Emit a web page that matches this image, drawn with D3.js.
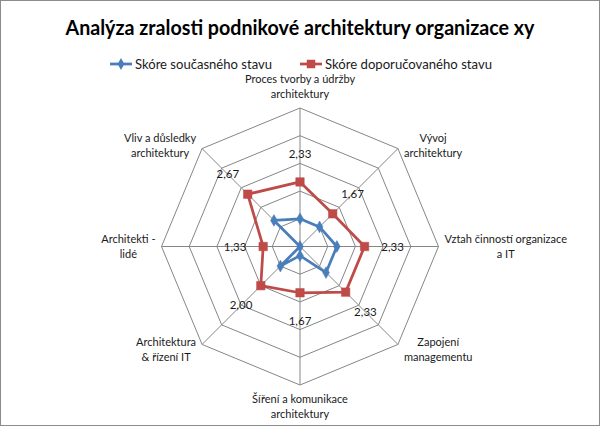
<!DOCTYPE html>
<html><head><meta charset="utf-8">
<script src="https://cdn.jsdelivr.net/npm/d3@7"></script>
<style>
html,body{margin:0;padding:0;background:#fff;}
svg{display:block;font-family:Lato,"Open Sans",sans-serif;}
</style></head>
<body>
<svg id="chart" width="600" height="426"></svg>
<script>
const title = "Analýza zralosti podnikové architektury organizace xy";
const categories = [
  ["Proces tvorby a údržby","architektury"],
  ["Vývoj","architektury"],
  ["Vztah činností organizace","a IT"],
  ["Zapojení","managementu"],
  ["Šíření a komunikace","architektury"],
  ["Architektura","& řízení IT"],
  ["Architekti -","lidé"],
  ["Vliv a důsledky","architektury"]
];
const seriesNames = ["Skóre současného stavu","Skóre doporučovaného stavu"];
const currentScores = [1, 1, 1.33, 1.33, 0.33, 1, 0, 1.33];
const recommendedScores = [2.33, 1.67, 2.33, 2.33, 1.67, 2.00, 1.33, 2.67];
const ringValues = [1, 2, 3, 4, 5];

const svg = d3.select("#chart");
const W = 600, H = 426;
const cx = 300, cy = 246.5, R = 138.5;
const blue = "#4A7EBB", red = "#BE4B48", grid = "#868686";

svg.append("rect").attr("x",0.5).attr("y",0.5).attr("width",W-1).attr("height",H-1)
  .attr("fill","#fff").attr("stroke","#8c8c8c");

const n = categories.length;
const angle = d3.scaleLinear().domain([0,n]).range([0, 2*Math.PI]);
const r = d3.scaleLinear().domain([0,5]).range([0,R]);
const pt = (i, v) => [cx + r(v)*Math.sin(angle(i)), cy - r(v)*Math.cos(angle(i))];

const g = svg.append("g");
ringValues.forEach(v => {
  g.append("path")
    .attr("d", d3.line()(d3.range(n).map(i => pt(i, v))) + "Z")
    .attr("fill","none").attr("stroke",grid).attr("stroke-width",1);
});
d3.range(n).forEach(i => {
  const p = pt(i, 5);
  g.append("line").attr("x1",cx).attr("y1",cy).attr("x2",p[0]).attr("y2",p[1])
    .attr("stroke",grid).attr("stroke-width",1);
});

const lh = 15.5;
categories.forEach((lines, i) => {
  const a = angle(i);
  const dx = Math.sin(a), dy = -Math.cos(a);
  const p = pt(i, 5);
  const t = svg.append("text").attr("font-size",11).attr("fill","#1a1a1a").attr("text-anchor","middle");
  const spans = lines.map(s => t.append("tspan").text(s));
  const widths = spans.map(s => s.node().getComputedTextLength());
  const mw = d3.max(widths);
  let bx, by;
  const blockH = lines.length * lh;
  if (Math.abs(dx) < 0.01) bx = p[0];
  else if (dx > 0) bx = p[0] + 6 + mw/2;
  else bx = p[0] - 6 - mw/2;
  if (dy < -0.9) by = p[1] - 6 - blockH/2;
  else if (dy > 0.9) by = p[1] + 6 + blockH/2;
  else if (Math.abs(dy) < 0.01) by = p[1];
  else by = p[1] + (dy > 0 ? 5 : -3);
  spans.forEach((s, k) => {
    s.attr("x", bx).attr("y", by - blockH/2 + lh*(k+0.5)).attr("dy","0.35em");
  });
});

const line = d3.line().curve(d3.curveLinearClosed);
function drawSeries(vals, color, shape, size){
  const pts = vals.map((v,i) => pt(i, v));
  svg.append("path").attr("d", line(pts)).attr("fill","none")
    .attr("stroke",color).attr("stroke-width",2.75).attr("stroke-linejoin","round");
  svg.selectAll(null).data(pts).enter().append("path")
    .attr("transform", d => `translate(${d[0]},${d[1]})`)
    .attr("d", d3.symbol().type(shape).size(size))
    .attr("fill",color).attr("stroke",color).attr("stroke-width",0.5);
}
drawSeries(currentScores, blue, d3.symbolDiamond, 40);
drawSeries(recommendedScores, red, d3.symbolSquare, 72);

const fmt = v => d3.format(".2f")(v).replace(".", ",");
recommendedScores.forEach((v,i) => {
  const p = pt(i, v + 28/ (R/5));
  svg.append("text").attr("x",p[0]).attr("y",p[1]).attr("dy","0.35em")
    .attr("text-anchor","middle").attr("font-size",11.5).attr("fill","#1a1a1a").text(fmt(v));
});

const tt = svg.append("text").attr("x",300).attr("y",28).attr("dy","0.35em")
  .attr("text-anchor","middle").attr("font-weight","bold").attr("font-size",21).attr("fill","#000").text(title);
tt.attr("textLength", 469).attr("lengthAdjust","spacingAndGlyphs");

const legY = 64;
const legItems = [
  {name: seriesNames[0], color: blue, shape: d3.symbolDiamond, size: 40, x0: 110, tw: 137},
  {name: seriesNames[1], color: red, shape: d3.symbolSquare, size: 72, x0: 300, tw: 167}
];
legItems.forEach(it => {
  svg.append("line").attr("x1",it.x0).attr("x2",it.x0+22).attr("y1",legY).attr("y2",legY)
    .attr("stroke",it.color).attr("stroke-width",2.75);
  svg.append("path").attr("transform",`translate(${it.x0+11},${legY})`)
    .attr("d", d3.symbol().type(it.shape).size(it.size)).attr("fill",it.color);
  svg.append("text").attr("x",it.x0+25).attr("y",legY).attr("dy","0.35em")
    .attr("font-size",13.5).attr("fill","#1a1a1a")
    .attr("textLength", it.tw).attr("lengthAdjust","spacingAndGlyphs").text(it.name);
});
</script>
</body></html>
